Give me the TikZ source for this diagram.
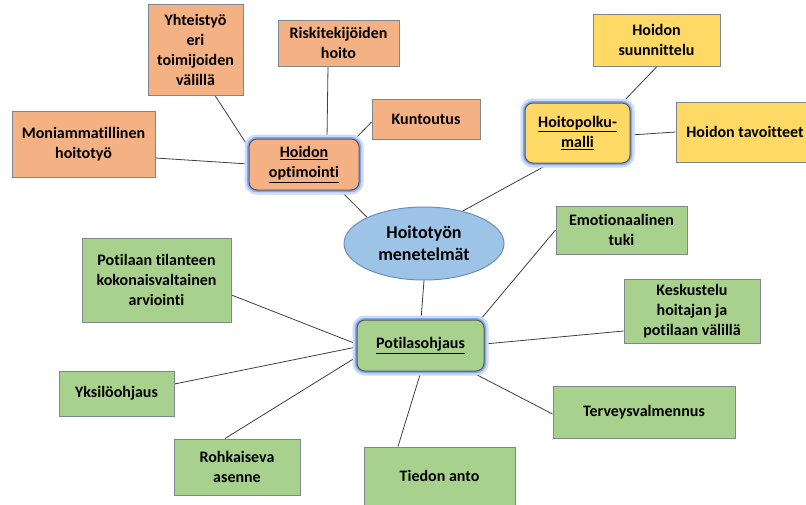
\documentclass[tikz,border=0pt]{standalone}
\usepackage{fontspec}
\setmainfont{Carlito}[Ligatures=NoCommon]
\usetikzlibrary{shapes.geometric,backgrounds}
\definecolor{orfill}{HTML}{F4B183}
\definecolor{yefill}{HTML}{FFD966}
\definecolor{grfill}{HTML}{A9D18E}
\definecolor{blfill}{HTML}{9DC3E6}
\definecolor{blline}{HTML}{6A8FBF}
\definecolor{bxline}{HTML}{7D8791}
\definecolor{lnk}{HTML}{404040}
\definecolor{glowA}{HTML}{7FA6F0}
\definecolor{glowB}{HTML}{C9DAFA}
\tikzset{
  box/.style={rectangle, draw=bxline, line width=1pt, inner sep=0pt, align=center,
    font=\fontsize{16}{20}\selectfont\bfseries, text=black},
  hub/.style={box, rounded corners=8pt, draw=black!65,
    preaction={draw=glowB, line width=9pt, rounded corners=8pt},
    preaction={draw=glowA, line width=4pt, rounded corners=8pt}},
  orb/.style={box, fill=orfill},
  yeb/.style={box, fill=yefill},
  grb/.style={box, fill=grfill},
  link/.style={draw=lnk, line width=0.8pt},
}
\begin{document}
\begin{tikzpicture}[x=1pt,y=-1pt]
\useasboundingbox (0,0) rectangle (806,504);
\clip (0,0) rectangle (806,504);
% orange group
\node[orb, minimum width=95, minimum height=91] (yht) at (195.5,49.5) {Yhteistyö\\eri\\toimijoiden\\välillä};
\node[orb, minimum width=121, minimum height=46] (risk) at (338.5,43) {Riskitekijöiden\\hoito};
\node[orb, minimum width=108, minimum height=40] (kunt) at (426,119) {Kuntoutus};
\node[orb, minimum width=143, minimum height=66] (moni) at (83.5,144) {Moniammatillinen\\hoitotyö};
\node[hub, fill=orfill, minimum width=110, minimum height=51] (opt) at (304,164.5) {\underline{Hoidon}\\\underline{optimointi}};
% yellow group
\node[yeb, minimum width=127, minimum height=52] (suun) at (656.5,40) {Hoidon\\suunnittelu};
\node[hub, fill=yefill, minimum width=105, minimum height=60] (polku) at (577.5,133) {\underline{Hoitopolku-}\\\underline{malli}};
\node[yeb, minimum width=138, minimum height=60] (tav) at (745,132) {Hoidon tavoitteet};
% center
\node[ellipse, draw=blline, line width=1pt, fill=blfill, minimum width=160, minimum height=73, inner sep=0pt, align=center,
  font=\fontsize{18}{22}\selectfont\bfseries] (ell) at (424,243.5) {Hoitotyön\\menetelmät};
% green group
\node[hub, fill=grfill, minimum width=127, minimum height=51] (poh) at (420.5,345.5) {\underline{Potilasohjaus}};
\node[grb, minimum width=149, minimum height=84] (ptl) at (156.5,280) {Potilaan tilanteen\\kokonaisvaltainen\\arviointi};
\node[grb, minimum width=115, minimum height=45] (yks) at (116.5,393.5) {Yksilöohjaus};
\node[grb, minimum width=126, minimum height=56] (rohk) at (237,467) {Rohkaiseva\\asenne};
\node[grb, minimum width=151, minimum height=58] (tied) at (439.5,476) {Tiedon anto};
\node[grb, minimum width=131, minimum height=48] (emo) at (621.5,230) {Emotionaalinen\\tuki};
\node[grb, minimum width=136, minimum height=64] (kes) at (692,311) {Keskustelu\\hoitajan ja\\potilaan välillä};
\node[grb, minimum width=182, minimum height=52] (terv) at (644,412) {Terveysvalmennus};
% connectors
\begin{pgfonlayer}{background}
\fill[white] (0,0) rectangle (806,504);
\draw[link] ([shift={(19.5,0)}]yht.south) -- ([shift={(0,-17.5)}]opt.west);
\draw[link] ([shift={(-10.5,0)}]risk.south) -- ([shift={(23,0)}]opt.north);
\draw[link] ([shift={(0,3)}]kunt.west) -- ([shift={(-4,0)}]opt.north east);
\draw[link] ([shift={(0,14)}]moni.east) -- ([shift={(0,-0.5)}]opt.west);
\draw[link] ([shift={(-19,0)}]opt.south east) -- (ell.north west);
\draw[link] ([shift={(25,0)}]polku.south west) -- (ell.40);
\draw[link] ([shift={(0.5,0)}]suun.south) -- ([shift={(-8,0)}]polku.north east);
\draw[link] ([shift={(0,2)}]polku.east) -- (tav.west);
\draw[link] (ell.south) -- ([shift={(0.5,0)}]poh.north);
\draw[link] (emo.west) -- ([shift={(-4,0)}]poh.north east);
\draw[link] ([shift={(0,20)}]kes.west) -- ([shift={(0,-1.5)}]poh.east);
\draw[link] ([shift={(0,2)}]terv.west) -- ([shift={(-14,0)}]poh.south east);
\draw[link] ([shift={(-41.5,0)}]tied.north) -- ([shift={(0.5,0)}]poh.south);
\draw[link] ([shift={(-12,0)}]rohk.north) -- ([shift={(0,11.5)}]poh.west);
\draw[link] ([shift={(0,-9.5)}]yks.east) -- ([shift={(0,1.5)}]poh.west);
\draw[link] ([shift={(0,15)}]ptl.east) -- ([shift={(0,-1.5)}]poh.west);
\end{pgfonlayer}
\end{tikzpicture}
\end{document}
